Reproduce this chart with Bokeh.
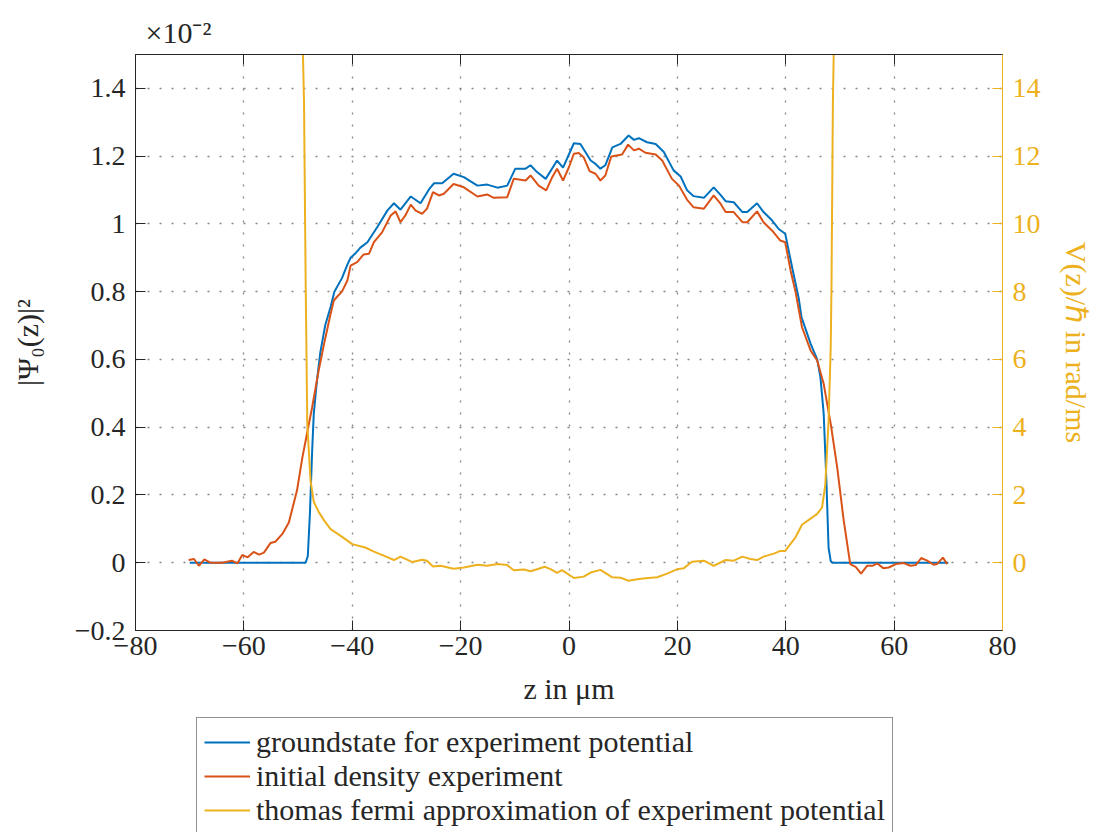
from bokeh.plotting import figure
from bokeh.models import Range1d, LinearAxis, FixedTicker, Legend, LegendItem
from bokeh.layouts import column
from bokeh.embed import file_html
from bokeh.resources import INLINE

# ---------------- data ----------------
ground_z = [-70, -48.6, -48.2, -47.8, -47.4, -47.1, -46.5, -45.9, -45.0, -44.0, -43.3, -41.9,
            -40.9, -40.3, -39.3, -38.5, -37.2, -35.4, -33.5, -32.3, -31.1, -29.2, -27.4, -25.7,
            -24.9, -23.4, -21.3, -19.4, -16.9, -15.1, -13.2, -11.4, -9.9, -8.0, -7.1, -5.9, -4.3,
            -2.2, -1.1, 0.9, 2.1, 4.0, 4.9, 5.8, 6.7, 8.0, 9.5, 11.0, 12.0, 12.9, 14.4, 16.0, 17.5,
            19.3, 20.6, 21.8, 23.0, 24.9, 26.7, 28.0, 28.9, 30.4, 32.0, 32.9, 34.7, 35.9, 37.5,
            38.7, 39.9, 41.2, 42.4, 42.9, 44.6, 45.8, 46.4, 47.0, 47.5, 47.9, 48.3, 48.6, 70]
ground_v = [0, 0, 0.02, 0.15, 0.33, 0.44, 0.54, 0.62, 0.70, 0.755, 0.80, 0.84,
            0.88, 0.90, 0.915, 0.93, 0.946, 0.99, 1.04, 1.061, 1.042, 1.081, 1.061, 1.105,
            1.12, 1.12, 1.148, 1.138, 1.113, 1.116, 1.107, 1.113, 1.163, 1.163, 1.173, 1.153, 1.133,
            1.187, 1.166, 1.238, 1.236, 1.187, 1.177, 1.163, 1.173, 1.226, 1.236, 1.261, 1.248, 1.253,
            1.241, 1.236, 1.212, 1.158, 1.140, 1.099, 1.082, 1.077, 1.108, 1.085, 1.067, 1.064, 1.035,
            1.035, 1.061, 1.035, 1.01, 0.985, 0.971, 0.87, 0.78, 0.725, 0.646, 0.60, 0.547, 0.44,
            0.242, 0.045, 0.005, 0, 0]

init_z = [-70.2, -69.2, -68.3, -67.3, -66.2, -64.0, -62.2, -61.2, -60.3, -59.3, -58.2, -57.2,
          -56.3, -55.1, -54.2, -52.9, -51.7, -50.2, -49.2, -48.3, -47.4, -46.2, -45.2, -44.0,
          -43.4, -42.8, -41.9, -40.9, -40.3, -39.1, -37.9, -36.9, -36.0, -34.5, -32.9, -32.0,
          -31.1, -30.2, -29.2, -28.3, -27.1, -26.2, -25.1, -24.0, -23.1, -21.3, -19.4, -16.9,
          -15.1, -13.9, -11.4, -10.2, -8.0, -7.1, -5.6, -4.2, -3.1, -2.2, -1.1, 0.0, 0.9, 1.8,
          2.7, 3.8, 4.9, 5.8, 6.7, 7.8, 9.8, 10.9, 12.0, 12.9, 14.1, 16.0, 17.2, 19.0, 20.3,
          21.8, 23.0, 24.9, 26.7, 28.0, 28.9, 30.4, 32.0, 32.9, 34.7, 35.9, 37.5, 39.0, 39.9,
          40.9, 41.8, 43.0, 44.6, 45.8, 47.0, 48.3, 49.5, 50.7, 51.9, 52.9, 53.9, 55.0, 56.0,
          56.9, 58.0, 59.0, 60.3, 61.8, 63.0, 64.0, 65.0, 66.1, 67.3, 67.9, 69.0, 69.8]
init_v = [0.008, 0.011, -0.009, 0.01, 0.0, 0.0, 0.006, -0.002, 0.023, 0.016, 0.032, 0.024,
          0.03, 0.058, 0.062, 0.085, 0.119, 0.213, 0.311, 0.385, 0.459, 0.567, 0.646, 0.734,
          0.774, 0.785, 0.80, 0.833, 0.877, 0.887, 0.91, 0.912, 0.946, 0.975, 1.025, 1.037,
          1.005, 1.025, 1.057, 1.039, 1.03, 1.045, 1.094, 1.084, 1.089, 1.118, 1.108, 1.081,
          1.087, 1.077, 1.079, 1.133, 1.128, 1.143, 1.113, 1.099, 1.138, 1.163, 1.128, 1.168,
          1.207, 1.209, 1.197, 1.156, 1.148, 1.128, 1.143, 1.199, 1.205, 1.234, 1.217, 1.222,
          1.21, 1.205, 1.187, 1.133, 1.113, 1.071, 1.049, 1.045, 1.084, 1.059, 1.035, 1.035,
          1.005, 1.005, 1.037, 1.005, 0.98, 0.951, 0.946, 0.862, 0.80, 0.695, 0.626, 0.597,
          0.528, 0.41, 0.281, 0.124, -0.004, -0.012, -0.032, -0.009, -0.009, -0.002, -0.016,
          -0.014, -0.004, -0.001, -0.009, -0.007, 0.014, 0.006, -0.006, -0.004, 0.015, -0.004]

tf_z = [-49.3, -49.1, -48.9, -48.6, -48.3, -47.7, -47.1, -46.2, -45.2, -44.0, -42.2, -40.0,
        -37.6, -36.0, -34.2, -32.3, -31.1, -28.9, -27.1, -26.2, -25.1, -23.7, -21.3, -19.4,
        -16.9, -15.1, -13.2, -11.4, -10.2, -8.3, -7.1, -5.9, -4.5, -3.4, -2.2, -1.3, 0.9, 2.7,
        4.0, 5.8, 8.0, 9.5, 11.0, 12.6, 14.1, 16.3, 18.1, 20.0, 21.2, 22.7, 24.9, 26.7, 28.9,
        30.4, 32.0, 33.5, 34.7, 35.9, 37.8, 39.0, 39.9, 41.8, 43.0, 44.9, 45.8, 46.7, 47.3,
        47.9, 48.3, 48.45, 48.7, 48.85, 49.0]
tf_v = [17, 15, 13.6, 8.3, 4.1, 2.42, 1.8, 1.5, 1.25, 0.99, 0.80, 0.55,
        0.45, 0.33, 0.21, 0.08, 0.18, 0.02, 0.09, 0.06, -0.11, -0.09, -0.18, -0.14,
        -0.06, -0.09, -0.04, -0.07, -0.22, -0.2, -0.25, -0.19, -0.12, -0.19, -0.30, -0.22,
        -0.45, -0.41, -0.29, -0.21, -0.43, -0.44, -0.53, -0.49, -0.46, -0.43, -0.32, -0.19,
        -0.16, 0.03, 0.06, -0.09, 0.08, 0.06, 0.18, 0.11, 0.08, 0.18, 0.27, 0.35, 0.35, 0.75,
        1.12, 1.34, 1.44, 1.63, 2.3, 4.19, 6.36, 8.33, 13.6, 15, 17]

x_ticks = [-80, -60, -40, -20, 0, 20, 40, 60, 80]
x_labels = ["\u221280", "\u221260", "\u221240", "\u221220", "0", "20", "40", "60", "80"]
left_ticks = [-0.2, 0, 0.2, 0.4, 0.6, 0.8, 1.0, 1.2, 1.4]
left_labels = ["\u22120.2", "0", "0.2", "0.4", "0.6", "0.8", "1", "1.2", "1.4"]
right_ticks = [0, 2, 4, 6, 8, 10, 12, 14]
right_labels = ["0", "2", "4", "6", "8", "10", "12", "14"]
names = ["groundstate for experiment potential",
         "initial density experiment",
         "thomas fermi approximation of experiment potential"]

# ---------------- styling ----------------
BLUE = "#0072BD"
RED = "#D95319"
YEL = "#EDB120"
DARK = "#262626"
FONT = "Liberation Serif"
TICK_FS = "28px"
LAB_FS = "30px"

p = figure(width=1096, height=710, output_backend="svg", toolbar_location=None,
           x_range=Range1d(-80, 80), y_range=Range1d(-0.2, 1.5),
           min_border_left=135, min_border_right=94, min_border_top=54, min_border_bottom=80,
           title="\u00d710\u207b\u00b2")
p.title.text_font = FONT
p.title.text_font_size = "30px"
p.title.text_font_style = "normal"
p.title.text_color = DARK
p.title.align = "left"
p.title.offset = 10
p.title.standoff = 12

p.background_fill_color = "white"
p.border_fill_color = "white"
p.outline_line_color = DARK
p.outline_line_width = 1

p.extra_y_ranges = {"v": Range1d(-2, 15)}

p.line(ground_z, ground_v, line_color=BLUE, line_width=2)
p.line(init_z, init_v, line_color=RED, line_width=2)
p.line(tf_z, tf_v, line_color=YEL, line_width=2, y_range_name="v")

def style_axis(ax, color):
    ax.axis_line_color = color
    ax.major_tick_line_color = color
    ax.major_tick_in = 10
    ax.major_tick_out = 0
    ax.minor_tick_line_color = None
    ax.major_label_text_font = FONT
    ax.major_label_text_font_size = TICK_FS
    ax.major_label_text_color = color
    ax.axis_label_text_font = FONT
    ax.axis_label_text_font_size = LAB_FS
    ax.axis_label_text_font_style = "normal"
    ax.axis_label_text_color = color

xa = p.xaxis[0]
xa.ticker = FixedTicker(ticks=x_ticks)
xa.major_label_overrides = dict(zip(x_ticks, x_labels))
style_axis(xa, DARK)
xa.axis_label = "z in \u03bcm"
xa.major_label_standoff = 6
xa.axis_label_standoff = 14

ya = p.yaxis[0]
ya.ticker = FixedTicker(ticks=left_ticks)
ya.major_label_overrides = dict(zip(left_ticks, left_labels))
style_axis(ya, DARK)
ya.axis_label = "|\u03a8\u2080(z)|\u00b2"
ya.major_label_standoff = 10
ya.axis_label_standoff = 28

ra = LinearAxis(y_range_name="v", ticker=FixedTicker(ticks=right_ticks))
ra.major_label_overrides = dict(zip(right_ticks, right_labels))
style_axis(ra, YEL)
ra.axis_label = "V(z)/\u210f in rad/ms"
ra.major_label_standoff = 10
ra.axis_label_standoff = 16
p.add_layout(ra, "right")

ta = LinearAxis(ticker=FixedTicker(ticks=x_ticks))
style_axis(ta, DARK)
ta.major_label_text_font_size = "0px"
ta.major_label_standoff = 0
ta.major_label_text_alpha = 0
p.add_layout(ta, "above")

for g, tk in ((p.xgrid[0], x_ticks), (p.ygrid[0], left_ticks)):
    g.ticker = FixedTicker(ticks=tk)
    g.grid_line_color = "#7a7a7a"
    g.grid_line_width = 1.3
    g.grid_line_dash = "2 10"
    g.grid_line_alpha = 0.9

# ---------------- legend strip below the plot ----------------
q = figure(width=1096, height=122, output_backend="svg", toolbar_location=None,
           x_range=Range1d(-80, 80), y_range=Range1d(-0.2, 1.5),
           x_axis_type=None, y_axis_type=None,
           min_border_left=0, min_border_right=0, min_border_top=0, min_border_bottom=0)
q.outline_line_color = None
q.grid.visible = False
q.background_fill_color = "white"
q.border_fill_color = "white"
l1 = q.line(ground_z, ground_v, line_color=BLUE, line_width=2, visible=False)
l2 = q.line(init_z, init_v, line_color=RED, line_width=2, visible=False)
l3 = q.line(tf_z, tf_v, line_color=YEL, line_width=2, visible=False)

legend = Legend(items=[LegendItem(label=names[0], renderers=[l1]),
                       LegendItem(label=names[1], renderers=[l2]),
                       LegendItem(label=names[2], renderers=[l3])],
                location=(61, -3), orientation="vertical")
legend.label_text_font = FONT
legend.label_text_font_size = "30px"
legend.label_text_color = DARK
legend.label_height = 34
legend.glyph_height = 20
legend.glyph_width = 46
legend.label_standoff = 6
legend.spacing = 0
legend.padding = 7
legend.margin = 0
legend.border_line_color = DARK
legend.border_line_width = 1
legend.background_fill_color = "white"
legend.background_fill_alpha = 1
legend.inactive_fill_alpha = 0
legend.click_policy = "none"
q.add_layout(legend, "center")

layout = column(p, q, spacing=0)
open("out.html", "w").write(file_html(layout, INLINE))
